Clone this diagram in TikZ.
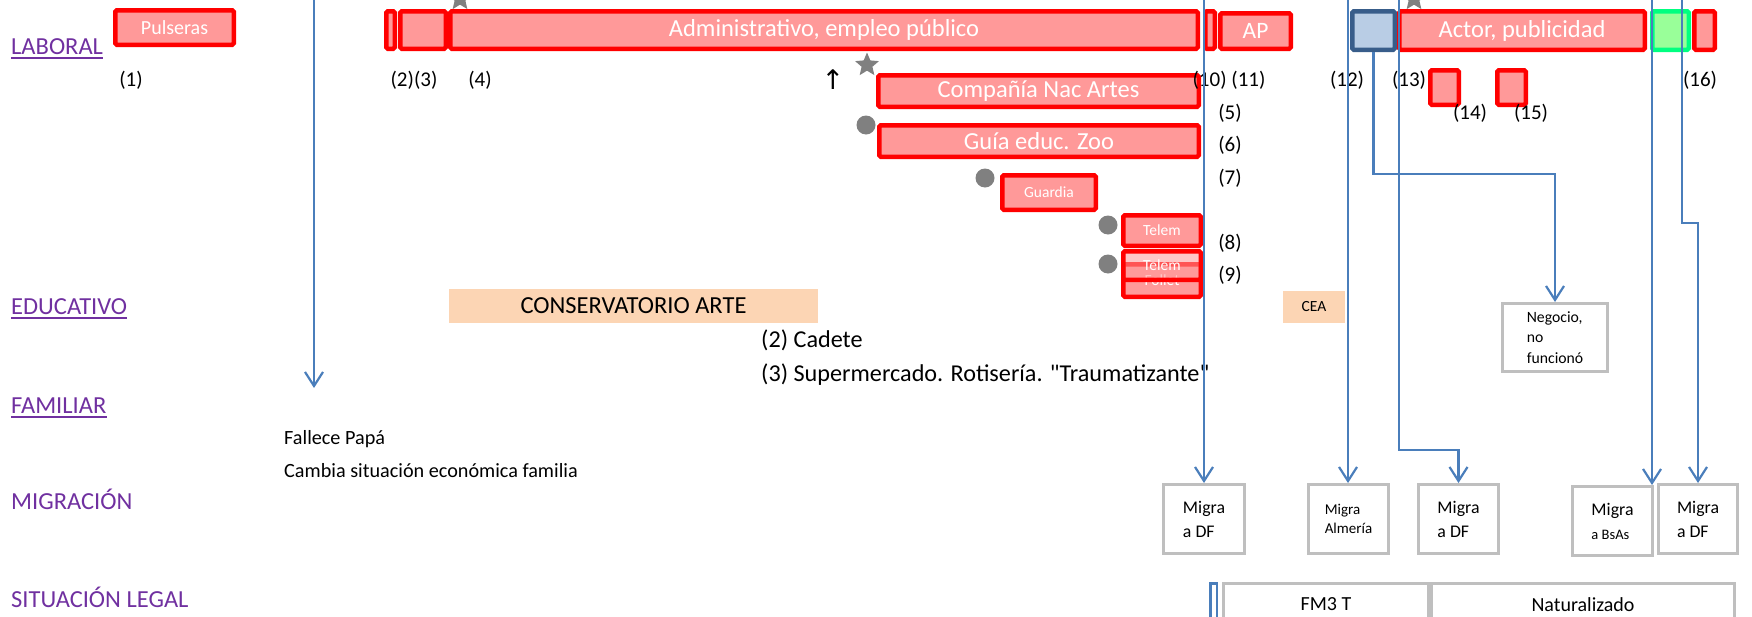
\documentclass[tikz,border=0pt]{standalone}
\usepackage{fontspec}
\setmainfont{Carlito}[Ligatures=TeXOff]
\newfontfamily\symfont{DejaVu Sans}
\usetikzlibrary{arrows.meta,shapes.geometric,calc}

\definecolor{boxred}{HTML}{FF0000}
\definecolor{boxpink}{HTML}{FF9999}
\definecolor{lineblue}{HTML}{4A7EBB}
\definecolor{catpurple}{HTML}{7030A0}
\definecolor{peach}{HTML}{FCD5B4}
\definecolor{greyline}{HTML}{BFBFBF}
\definecolor{darkblue}{HTML}{385D8A}
\definecolor{lightblue}{HTML}{B9CDE5}
\definecolor{springg}{HTML}{00FF80}
\definecolor{lightgreen}{HTML}{99FF99}
\definecolor{markgrey}{HTML}{808080}

\newcommand{\myfs}[2]{\fontsize{#1pt}{#2pt}\selectfont}
% \bx{name}{x1}{y1}{x2}{y2}{line width}{style}{text}
\newcommand{\bx}[8]{\node[#7, minimum width={#4-#2-#6}, minimum height={#5-#3-#6}] (#1) at ({(#2+#4)/2},{(#3+#5)/2}) {#8};}

\tikzset{
  cat/.style={anchor=base west, text=catpurple, font=\myfs{24.5}{29}, inner sep=0},
  redbox/.style={draw=boxred, fill=boxpink, line width=4.5pt, rounded corners=1.5pt, text=white, inner sep=0},
  bluebar/.style={draw=darkblue, fill=lightblue, line width=4.5pt, rounded corners=1.5pt, inner sep=0},
  greenbar/.style={draw=springg, fill=lightgreen, line width=4.5pt, rounded corners=1.5pt, inner sep=0},
  bigtxt/.style={font=\myfs{24.5}{29}},
  midtxt/.style={font=\myfs{20}{24}},
  smalltxt/.style={font=\myfs{15.5}{19}},
  numlabel/.style={font=\myfs{21}{25}, inner sep=0},
  plaintxt/.style={anchor=base west, inner sep=0},
  greybox/.style={draw=greyline, fill=white, line width=3pt, inner sep=0},
  legalblue/.style={draw=lineblue, fill=white, line width=2.5pt, inner sep=0},
  peachbox/.style={fill=peach, inner sep=0},
  migtxt/.style={align=left, font=\myfs{17.8}{24}},
  conn/.style={draw=lineblue, line width=2.2pt, -{Straight Barb[length=14pt,width=18pt,line width=2.2pt]}},
  starmark/.style={star, star points=5, star point ratio=2.2, fill=markgrey, minimum size=25pt, inner sep=0},
  dotmark/.style={circle, fill=markgrey, minimum size=19pt, inner sep=0}
}

\begin{document}
\begin{tikzpicture}[x=1pt,y=-1pt]
\useasboundingbox (0,0) rectangle (1752,616);
\clip (0,0) rectangle (1752,616);

% category labels
\node[cat] (lab) at (11,54) {LABORAL};
\node[cat] (edu) at (11,314) {EDUCATIVO};
\node[cat] (fam) at (11,413) {FAMILIAR};
\node[cat] (mig) at (11,509) {MIGRACIÓN};
\node[cat] (leg) at (11,607) {SITUACIÓN LEGAL};
\foreach \n in {lab,edu,fam}{
  \draw[catpurple, line width=2.5pt] ($(\n.base west)+(0,4)$) -- ($(\n.base east)+(0,4)$);
}

% markers behind boxes
\node[starmark] (s1) at (460,-1) {};
\node[starmark] (s2) at (1414,-1) {};
\node[starmark] (s3) at (867,65) {};
\node[dotmark] (d1) at (866,125) {};
\node[dotmark] (d2) at (985,178) {};
\node[dotmark] (d3) at (1108,225) {};
\node[dotmark] (d4) at (1108,264) {};

% laboral boxes
\bx{pul}{113}{8}{236}{47}{4.5}{redbox,midtxt}{Pulseras}
\bx{b2}{384}{9}{397}{51}{4.5}{redbox}{}
\bx{b3}{398}{9}{448}{51}{4.5}{redbox}{}
\bx{adm}{448}{9}{1200}{51}{4.5}{redbox,bigtxt}{Administrativo, empleo público}
\bx{b10}{1203}{9}{1217}{51}{4.5}{redbox}{}
\bx{ap}{1218}{11}{1293}{51}{4.5}{redbox,font=\myfs{23.5}{28}}{AP}
\bx{cna}{876}{73}{1201}{109}{4.5}{redbox,bigtxt}{Compañía Nac Artes}
\bx{zoo}{877}{123}{1201}{159}{4.5}{redbox,bigtxt}{Guía educ. Zoo}
\bx{gua}{1000}{173}{1098}{212}{4.5}{redbox,smalltxt}{Guardia}
\bx{tel1}{1121}{213}{1203}{248}{4.5}{redbox,smalltxt}{Telem}
\bx{fol}{1121}{262}{1203}{299}{4.5}{redbox,smalltxt}{Follet}
\bx{tel2}{1121}{249}{1203}{282}{4.5}{redbox,smalltxt,fill opacity=0.55,text opacity=1}{Telem}
\bx{b12}{1350}{9}{1397}{52}{4.5}{bluebar}{}
\bx{act}{1397}{9}{1647}{52}{4.5}{redbox,bigtxt}{Actor, publicidad}
\bx{grn}{1650}{9}{1691}{52}{4.5}{greenbar}{}
\bx{b16}{1692}{9}{1717}{52}{4.5}{redbox}{}
\bx{b14}{1428}{68}{1461}{107}{4.5}{redbox}{}
\bx{b15}{1495}{68}{1528}{107}{4.5}{redbox}{}

% number labels
\node[numlabel] (n1) at (131,80) {(1)};
\node[numlabel] (n23) at (414,80) {(2)(3)};
\node[numlabel] (n4) at (480,80) {(4)};
\node[font=\symfont\myfs{27}{30}, inner sep=0] (up) at (833,80) {↑};
\node[numlabel] (n1011) at (1229,80) {(10) (11)};
\node[numlabel] (n5) at (1230,113) {(5)};
\node[numlabel] (n6) at (1230,145) {(6)};
\node[numlabel] (n7) at (1230,178) {(7)};
\node[numlabel] (n8) at (1230,243) {(8)};
\node[numlabel] (n9) at (1230,275) {(9)};
\node[numlabel] (n12) at (1347,80) {(12)};
\node[numlabel] (n13) at (1409,80) {(13)};
\node[numlabel] (n14) at (1470,113) {(14)};
\node[numlabel] (n15) at (1531,113) {(15)};
\node[numlabel] (n16) at (1700,80) {(16)};

% educativo
\bx{cons}{449}{289}{818}{323}{0}{peachbox,bigtxt}{CONSERVATORIO ARTE}
\bx{cea}{1283}{291}{1345}{323}{0}{peachbox,smalltxt}{CEA}

% notes
\node[plaintxt, font=\myfs{24.2}{29}] (cad) at (761,347) {(2) Cadete};
\node[plaintxt, font=\myfs{24.2}{29}] (sup) at (761,381) {(3) Supermercado. Rotisería. "Traumatizante"};
\node[plaintxt, font=\myfs{20.2}{24}] (fal) at (284,444) {Fallece Papá};
\node[plaintxt, font=\myfs{20.2}{24}] (cam) at (284,477) {Cambia situación económica familia};

% negocio
\bx{neg}{1501}{302}{1609}{373}{3}{greybox,align=left,font=\myfs{15.7}{20.5}}{Negocio,\\no\\funcionó}

% migracion
\bx{m1}{1162}{483}{1246}{555}{3}{greybox,migtxt}{Migra\\a DF}
\bx{m2}{1307}{483}{1390}{555}{3}{greybox,align=left,font=\myfs{15}{19}}{Migra\\Almería}
\bx{m3}{1417}{483}{1500}{555}{3}{greybox,migtxt}{Migra\\a DF}
\bx{m4}{1571}{485}{1654}{557}{3}{greybox,migtxt}{Migra\\{\myfs{14.5}{17}a BsAs}}
\bx{m5}{1657}{483}{1739}{555}{3}{greybox,migtxt}{Migra\\a DF}

% situacion legal
\bx{lgb}{1209}{582}{1218}{626}{2.5}{legalblue}{}
\bx{fm3}{1222}{582}{1430}{626}{3}{greybox,midtxt}{FM3 T}
\bx{nat}{1430}{582}{1736}{628}{3}{greybox,midtxt}{Naturalizado}

% connectors
\coordinate (t1) at (314,0);
\coordinate (e1) at (314,388);
\coordinate (t2) at (1204,0);
\coordinate (t3) at (1348,0);
\coordinate (t5) at (1399,0);
\coordinate (t6) at (1652,0);
\coordinate (t7) at (1682,0);
\draw[conn] (t1) -- (e1);
\draw[conn] (t2) -- (t2 |- m1.north);
\draw[conn] (t3) -- (t3 |- m2.north);
\draw[conn] (b12.south) -- ++(0,122) -| (neg.north);
\draw[conn] (t5) -- ++(0,450) -| (m3.north);
\draw[conn] (t6) -- (t6 |- m4.north);
\draw[conn] (t7) -- ++(0,223) -| (m5.north);
\end{tikzpicture}
\end{document}
